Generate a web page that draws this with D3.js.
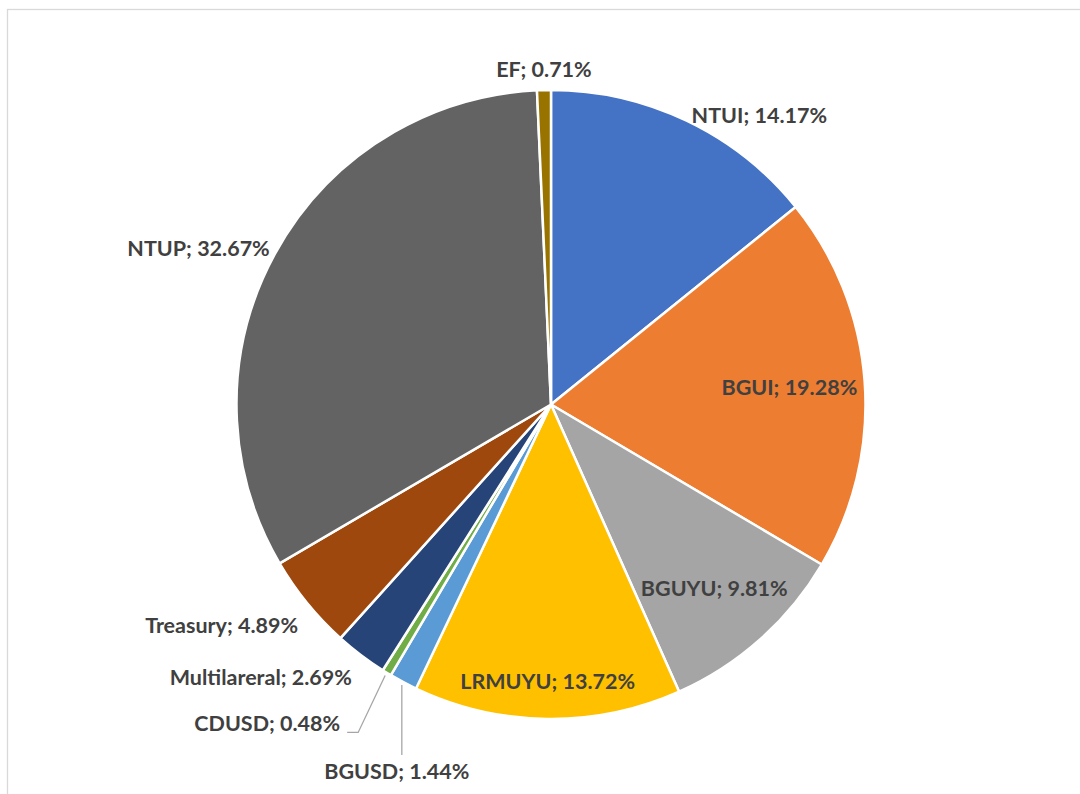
<!DOCTYPE html>
<html>
<head>
<meta charset="utf-8">
<script src="https://cdn.jsdelivr.net/npm/d3@7"></script>
<style>
  body { margin: 0; background: #fff; }
  text { font-family: Lato, "Open Sans", sans-serif; font-weight: bold; fill: #404040; }
</style>
</head>
<body>
<div class="chart"></div>
<script>

// data
const names = ["NTUI", "BGUI", "BGUYU", "LRMUYU", "BGUSD", "CDUSD", "Multilareral", "Treasury", "NTUP", "EF"];
const shares = [14.17, 19.28, 9.81, 13.72, 1.44, 0.48, 2.69, 4.89, 32.67, 0.71];
const colors = ["#4472C4", "#ED7D31", "#A5A5A5", "#FFC000", "#5B9BD5", "#70AD47", "#264478", "#9E480E", "#636363", "#997300"];

// how each label sits: "out" beside the rim, "in" inside the slice, "leader" pulled out with a line
const labelMode = ["out", "in", "in", "in", "leader", "leader", "out", "out", "out", "out"];
const insideRadius = { BGUI: 0.76, BGUYU: 0.78, LRMUYU: 0.88 };
const leaders = {
    BGUSD: { dx: 0, dy: 70, tail: 0 },
    CDUSD: { dx: -27, dy: 57, tail: -11 }
};

const width = 1080;
const height = 794;
const cx = 551, cy = 404.5;
const radius = 314.5;

const svg = d3.select(".chart")
    .append("svg")
    .attr("width", width)
    .attr("height", height);

// chart area border (runs off the right and bottom edges)
svg.append("rect")
    .attr("x", 7.5)
    .attr("y", 9.5)
    .attr("width", 1200)
    .attr("height", 1000)
    .style("fill", "none")
    .style("stroke", "#d9d9d9")
    .style("stroke-width", 1.3);

const data = names.map(function (n, i) {
    return { name: n, value: shares[i], color: colors[i], mode: labelMode[i] };
});

const pie = d3.pie()
    .sort(null)
    .value(function (d) { return d.value; });

const arc = d3.arc()
    .innerRadius(0)
    .outerRadius(radius);

const g = svg.append("g")
    .attr("transform", "translate(" + cx + "," + cy + ")");

const arcs = pie(data);

g.selectAll("path")
    .data(arcs)
    .enter()
    .append("path")
    .attr("d", arc)
    .style("fill", function (d) { return d.data.color; })
    .style("stroke", "white")
    .style("stroke-width", 2.5)
    .style("stroke-linejoin", "round");

function labelText(d) {
    return d.data.name + "; " + d.data.value.toFixed(2) + "%";
}

arcs.forEach(function (d) {
    const a = (d.startAngle + d.endAngle) / 2;
    const s = Math.sin(a), c = Math.cos(a);
    const px = radius * s, py = -radius * c;
    let x, y, anchor;

    if (d.data.mode === "in") {
        const k = insideRadius[d.data.name];
        x = radius * k * s;
        y = -radius * k * c + 8;
        anchor = "middle";
    } else if (d.data.mode === "leader") {
        const L = leaders[d.data.name];
        const x0 = px * 1.01, y0 = py * 1.01;
        const x1 = x0 + L.dx, y1 = y0 + L.dy;
        const x2 = x1 + L.tail;
        g.append("polyline")
            .attr("points", [[x0, y0], [x1, y1], [x2, y1]].join(" "))
            .style("fill", "none")
            .style("stroke", "#a6a6a6")
            .style("stroke-width", 1.3);
        if (L.tail === 0) {
            x = x2 - 5; y = y1 + 24; anchor = "middle";
        } else {
            x = x2 - 7; y = y1 - 1; anchor = "end";
        }
    } else {
        if (Math.abs(s) < 0.15) {
            x = px; y = c > 0 ? py - 13 : py + 30; anchor = "middle";
        } else {
            anchor = s > 0 ? "start" : "end";
            x = px + (s > 0 ? 1 : -1) * (c > 0 ? 5 : 9);
            y = py + (c > 0 ? 2 : 30);
        }
    }

    g.append("text")
        .attr("x", x)
        .attr("y", y)
        .attr("text-anchor", anchor)
        .style("font-size", "21.5px")
        .text(labelText(d));
});

</script>
</body>
</html>
